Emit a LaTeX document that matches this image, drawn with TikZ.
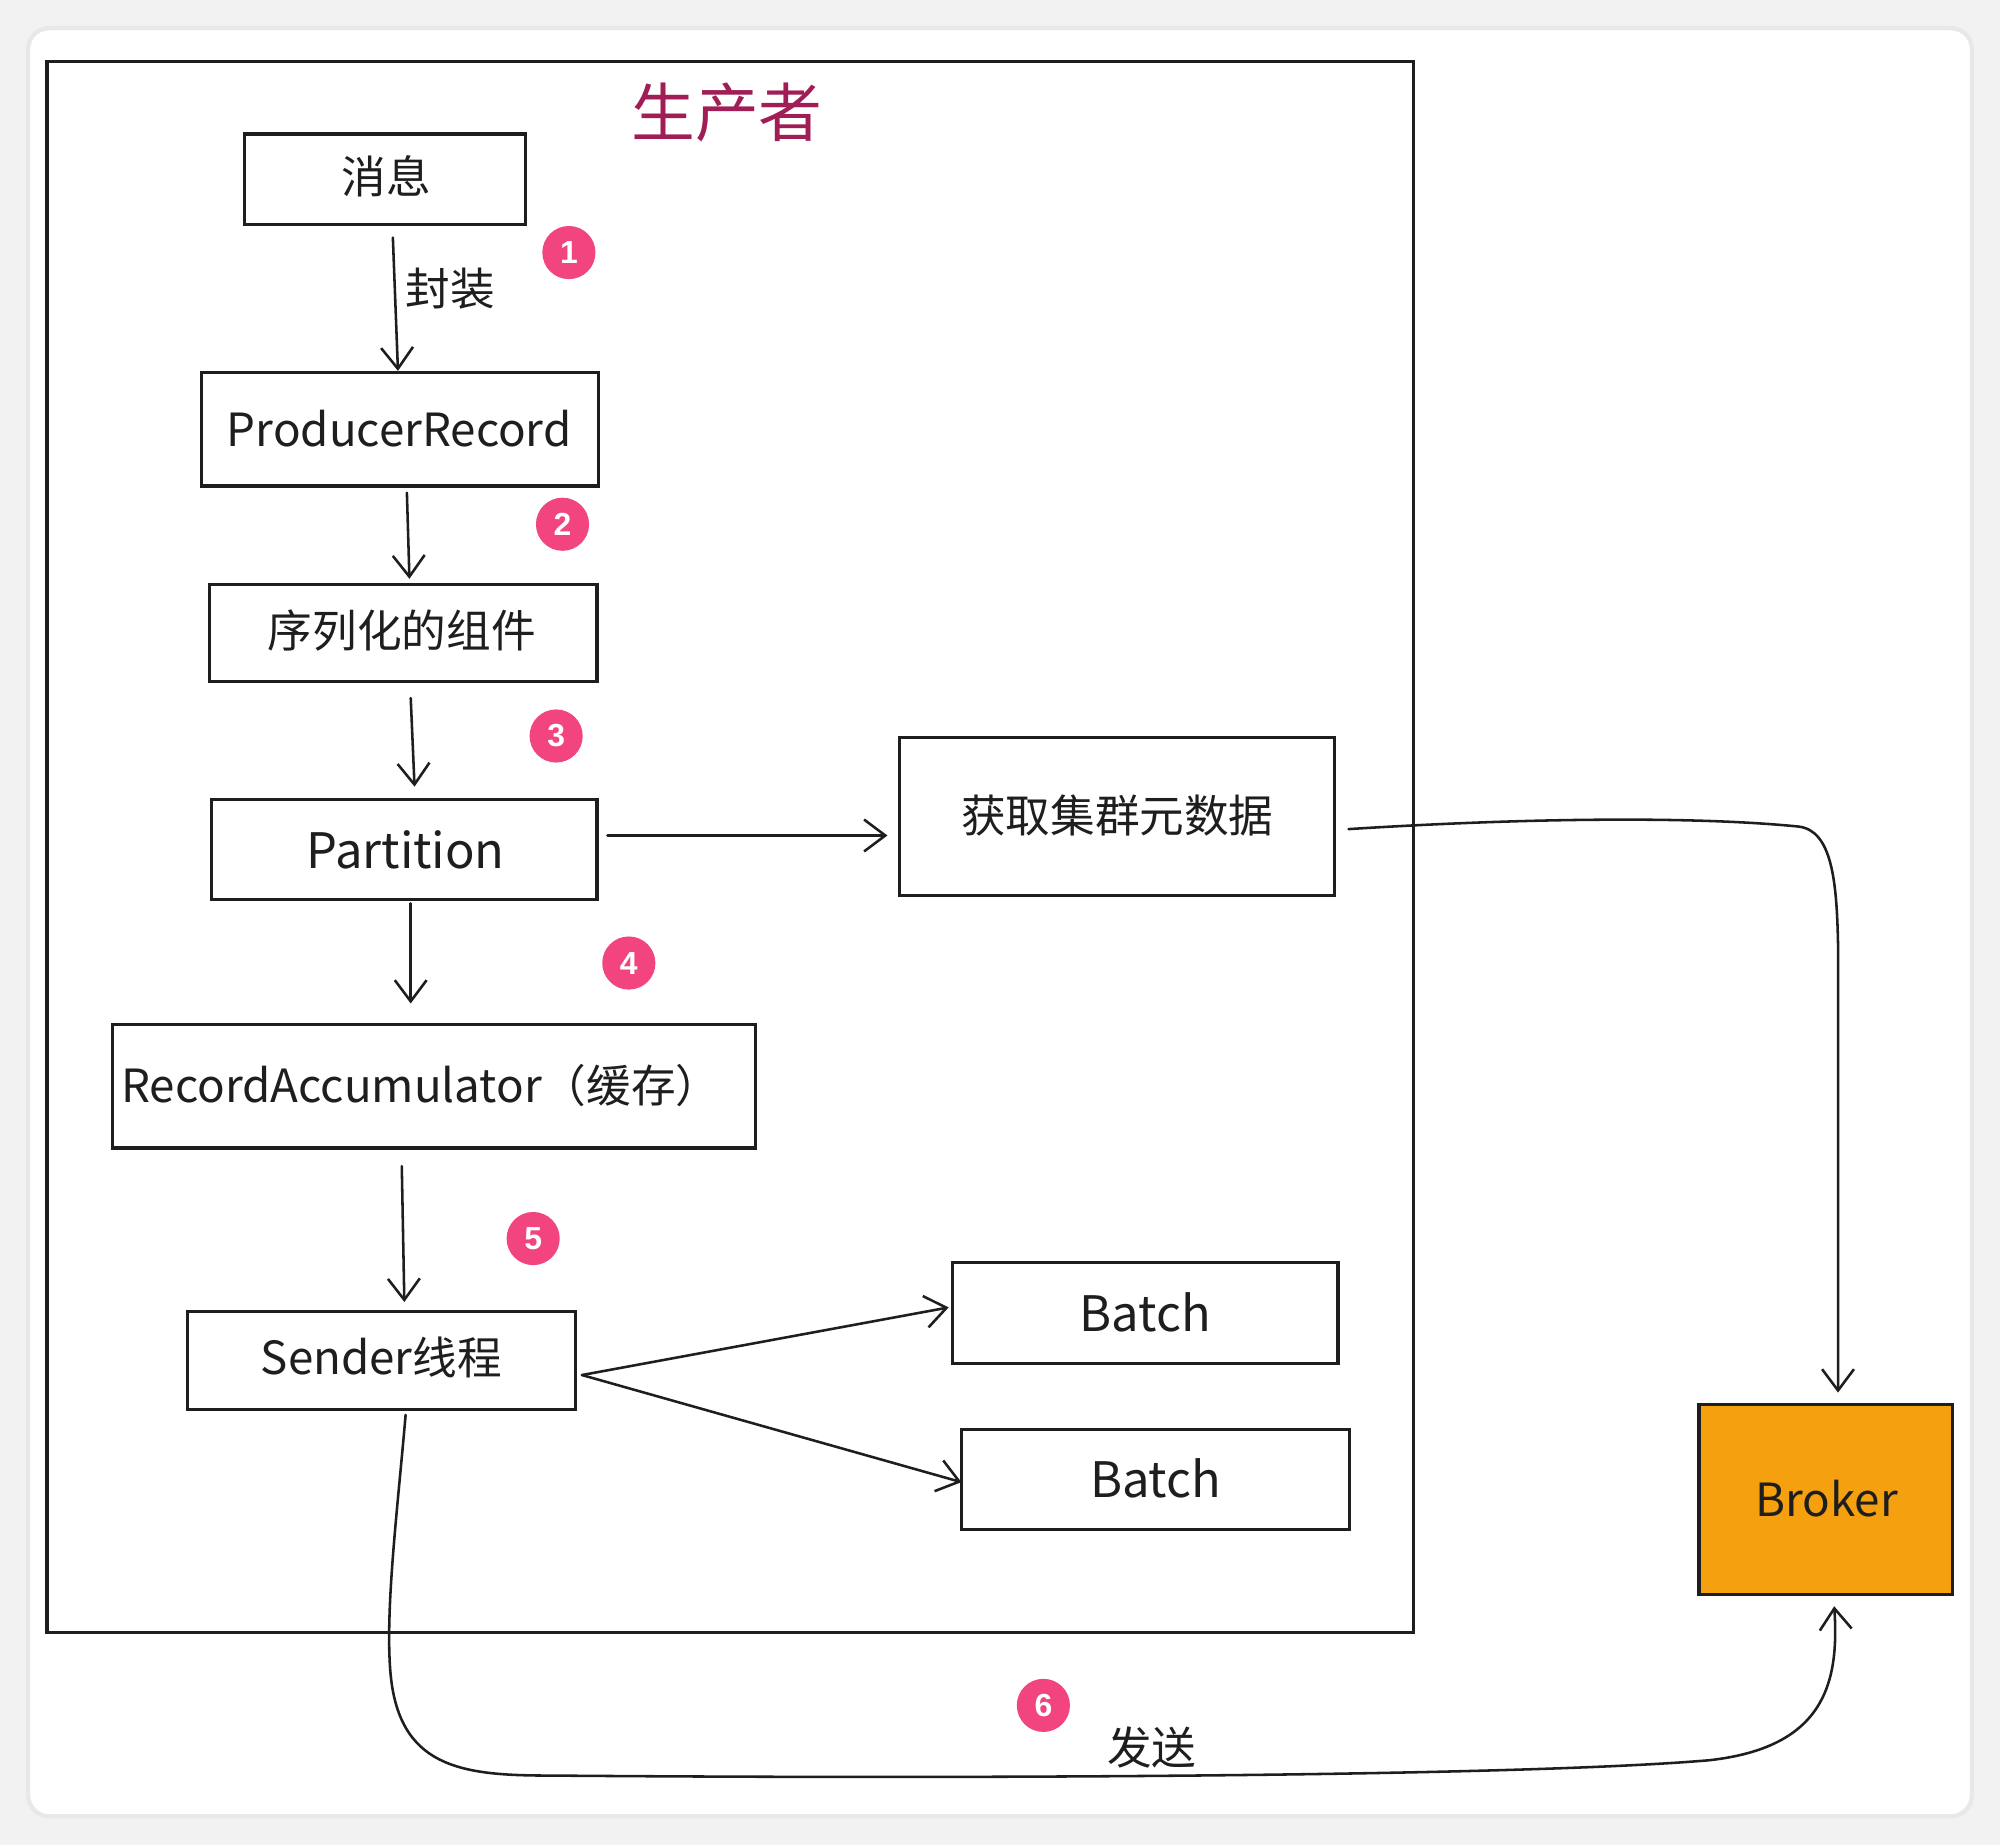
\documentclass[tikz,border=0pt]{standalone}
\usepackage{fontspec}
\setmainfont{Noto Sans CJK SC}
\newfontfamily\badgefont{Liberation Sans}
\usetikzlibrary{arrows.meta,fit}
\definecolor{bgc}{HTML}{F2F2F2}
\definecolor{ink}{HTML}{1E1E1E}
\definecolor{titlec}{HTML}{A01E55}
\definecolor{badgec}{HTML}{F2447E}
\definecolor{brokerc}{HTML}{F5A00E}
\newcommand\lsz{\fontsize{23pt}{26pt}\selectfont}
\newcommand\lssz{\fontsize{21.5pt}{24pt}\selectfont}
\newcommand\csz{\fontsize{21pt}{24pt}\selectfont}
\begin{document}
\begin{tikzpicture}[x=0.6pt,y=-0.6pt,
  box/.style={draw=ink,line width=1.5pt,inner sep=0pt},
  txt/.style={text=ink,inner sep=0pt,font=\csz},
  ltxt/.style={text=ink,inner sep=0pt,font=\lsz},
  arr/.style={draw=ink,line width=1.2pt,line cap=round,-{Straight Barb[length=10pt,width=15pt,line width=1.2pt]}},
  badge/.style={circle,fill=badgec,minimum size=25pt,inner sep=0pt,text=white,font=\badgefont\bfseries\fontsize{15pt}{16pt}\selectfont}]
\fill[bgc] (0,0) rectangle (1568,1446.5);
\useasboundingbox (0,0) rectangle (1568,1446.5);
\filldraw[fill=white,draw=black!9,line width=2pt,rounded corners=10pt] (22,22) rectangle (1546,1424);

% producer frame
\node[box,line width=1.6pt,fit={(37,48) (1108,1280)}] (frame) {};
\node[txt,text=titlec,font=\fontsize{30pt}{32pt}\selectfont] (title) at (570,88) {生产者};

% boxes
\node[box,fit={(192,105) (412,176)}] (msg) {};
\node[txt] (msgt) at (303,138) {消息};
\node[box,fit={(158,292) (469,381)}] (pr) {};
\node[ltxt,font=\lssz] (prt) at (313,336) {ProducerRecord};
\node[box,fit={(164,458) (468,534)}] (sz) {};
\node[txt] (szt) at (315,494) {序列化的组件};
\node[box,fit={(166,627) (468,705)}] (part) {};
\node[ltxt] (partt) at (318,666) {Partition};
\node[box,fit={(705,578) (1046,702)}] (meta) {};
\node[txt] (metat) at (876,639) {获取集群元数据};
\node[box,fit={(88,803) (592,900)}] (ra) {};
\node[txt] (rat) at (330,851) {{\lssz RecordAccumulator}（缓存）};
\node[box,fit={(147,1028) (451,1105)}] (snd) {};
\node[txt] (sndt) at (299,1064) {{\lssz Sender}线程};
\node[box,fit={(747,990) (1049,1069)}] (bt1) {};
\node[ltxt] (bt1t) at (898,1029) {Batch};
\node[box,fit={(754,1121) (1058,1199)}] (bt2) {};
\node[ltxt] (bt2t) at (906,1159) {Batch};
\node[box,fill=brokerc,fit={(1332,1101) (1531,1250)}] (broker) {};
\node[ltxt,font=\lssz] (brokert) at (1432,1175) {Broker};

% labels
\node[txt] (wrap) at (353,226) {封装};
\node[txt] (send) at (903,1370) {发送};

% badges
\node[badge] (n1) at (446,198) {1};
\node[badge] (n2) at (441,411) {2};
\node[badge] (n3) at (436,577) {3};
\node[badge] (n4) at (493,755) {4};
\node[badge] (n5) at (418,971) {5};
\node[badge] (n6) at (818,1337) {6};

% connectors
\draw[arr] ([shift={(6,9)}]msg.south) -- ([shift={(-1.5,0)}]pr.north);
\draw[arr] ([shift={(5.5,4)}]pr.south) -- ([shift={(5,-3)}]sz.north);
\draw[arr] ([shift={(6,12)}]sz.south) -- ([shift={(8,-9)}]part.north);
\draw[arr] ([shift={(5,2)}]part.south) -- ([shift={(-18,-15)}]ra.north);
\draw[arr] ([shift={(-25,13)}]ra.south) -- ([shift={(18,-6)}]snd.north);
\draw[arr] ([shift={(7,-11)}]part.east) -- ([shift={(-8,15)}]meta.west);
\draw[arr] ([shift={(4,11.5)}]snd.east) -- ([shift={(-2,-4.5)}]bt1.west);
\draw[arr] ([shift={(4,11.5)}]snd.east) -- ([shift={(1,2)}]bt2.west);

\coordinate (m1) at ([shift={(10,10)}]meta.east);
\coordinate (m2) at ([shift={(9.5,-8)}]broker.north);
\draw[arr] (m1) .. controls (1200,641) and (1330,640) .. (1410,648)
  .. controls (1436,651) and (1440,690) .. (1441,740) -- (m2);

\coordinate (s1) at ([shift={(19,3)}]snd.south);
\coordinate (s2) at ([shift={(6.5,8)}]broker.south);
\draw[arr] (s1) .. controls (312,1180) and (302,1260) .. (306,1310)
  .. controls (312,1385) and (360,1392) .. (430,1392)
  .. controls (800,1395) and (1200,1392) .. (1340,1380)
  .. controls (1430,1370) and (1442,1320) .. (s2);
\end{tikzpicture}
\end{document}
